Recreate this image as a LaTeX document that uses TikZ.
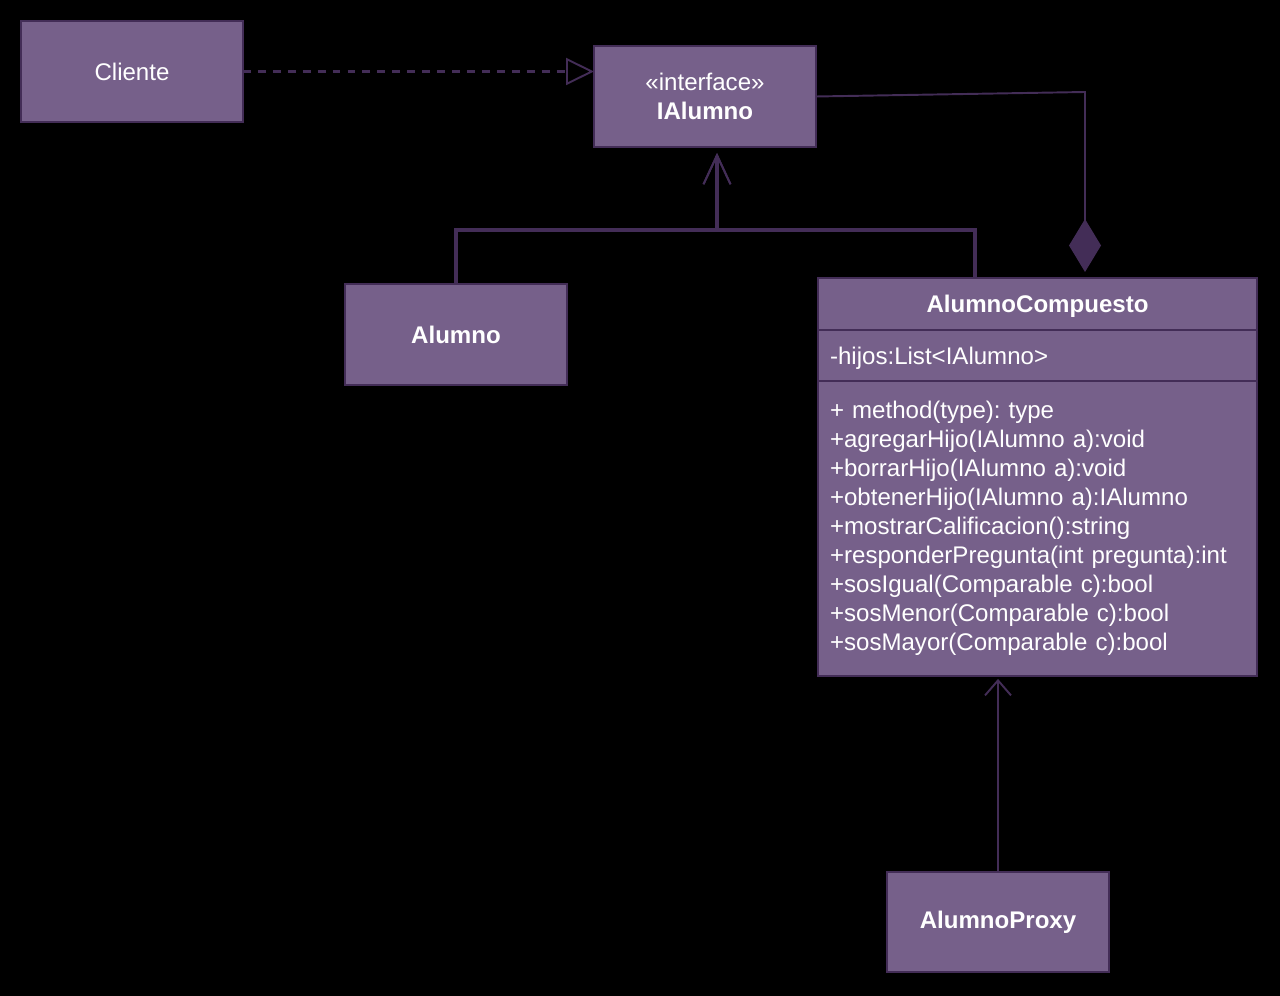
\documentclass[tikz,border=0pt]{standalone}
\usepackage{fontspec}
\setmainfont{Liberation Sans}
\usetikzlibrary{arrows.meta,positioning}

\definecolor{umlfill}{HTML}{76608A}
\definecolor{umlline}{HTML}{432D57}
\newcommand{\umlfont}{\fontsize{13.7}{16.5}\selectfont\frenchspacing}

\tikzset{
  classbox/.style={draw=umlline, fill=umlfill, line width=1.1pt, text=white,
    minimum width=4.44cm, minimum height=2.02cm, outer sep=0pt, font=\umlfont},
  partbox/.style={minimum width=8.78cm, text width=8.3cm, inner xsep=0.24cm, align=left},
  depline/.style={draw=umlline, line width=1.3pt, dash pattern=on 4.5pt off 4pt,
    -{Triangle[open, length=0.56cm, width=0.54cm, line width=1.1pt]}},
  genline/.style={draw=umlline, line width=1.8pt, shorten >=0.12cm,
    -{Straight Barb[length=0.58cm, width=0.54cm, line width=1.1pt]}},
  compline/.style={draw=umlline, line width=1.1pt,
    -{Diamond[length=1.06cm, width=0.64cm, fill=umlline]}},
  useline/.style={draw=umlline, line width=1.1pt, shorten >=0.06cm,
    -{Straight Barb[length=0.3cm, width=0.52cm, line width=1.1pt]}}
}

\begin{document}
\begin{tikzpicture}[x=0.02cm, y=-0.02cm]
  \useasboundingbox[fill=black] (0,0) rectangle (1280,996);
  % Classes
  \node[classbox] (cliente) at (132,71.5) {Cliente};
  \node[classbox, align=center] (iface) at (705,96.5) {«interface»\\\textbf{IAlumno}};
  \node[classbox] (alumno) at (456,334.5) {\textbf{Alumno}};
  \node[classbox, minimum height=2cm] (proxy) at (998,922) {\textbf{AlumnoProxy}};
  % AlumnoCompuesto
  \node[classbox, minimum width=8.78cm, minimum height=1.04cm, text depth=0pt, anchor=north] (ac) at (1037.5,278) {\textbf{AlumnoCompuesto}};
  \node[classbox, partbox, minimum height=1.02cm, text depth=0pt, anchor=north] (acattr) at (ac.south) {-hijos:List<IAlumno>};
  \node[classbox, partbox, minimum height=5.9cm, anchor=north] (acmeth) at (acattr.south) {%
    + method(type): type\\
    +agregarHijo(IAlumno a):void\\
    +borrarHijo(IAlumno a):void\\
    +obtenerHijo(IAlumno a):IAlumno\\
    +mostrarCalificacion():string\\
    +responderPregunta(int pregunta):int\\
    +sosIgual(Comparable c):bool\\
    +sosMenor(Comparable c):bool\\
    +sosMayor(Comparable c):bool};
  % Dependency
  \draw[depline] (cliente.east) -- (iface.west |- cliente.east);
  % Generalization
  \coordinate (bus) at (717,230);
  \coordinate (acjoin) at (975,278);
  \draw[genline] (alumno.north) |- (bus) -- (bus |- iface.south);
  \draw[genline] (acjoin) |- (bus) -- (bus |- iface.south);
  % Composition
  \coordinate (compbend) at (1085,92);
  \coordinate (comptip) at (1085,272);
  \draw[compline] (iface.east) -- (compbend) -- (comptip);
  % Proxy
  \draw[useline] (proxy.north) -- (proxy.north |- acmeth.south);
\end{tikzpicture}
\end{document}
